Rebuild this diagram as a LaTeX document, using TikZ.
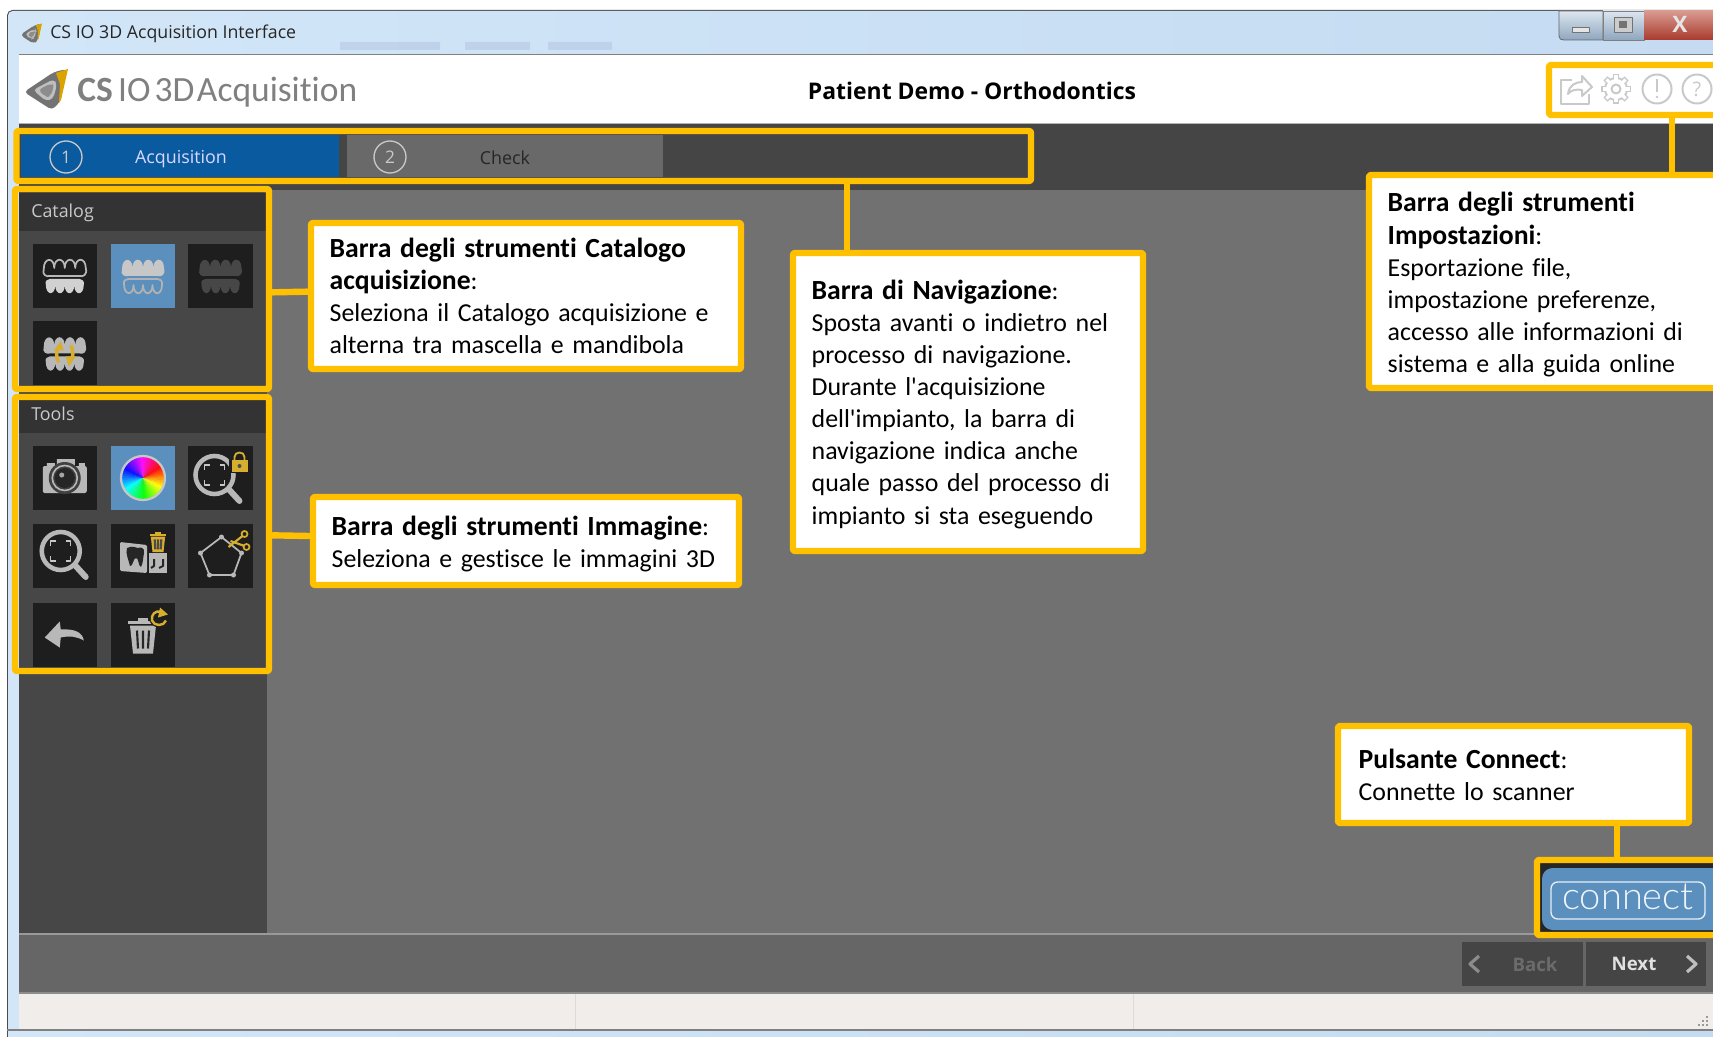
\documentclass[tikz,border=0pt]{standalone}
\usepackage{fontspec}
\setmainfont[Ligatures={NoCommon,TeXOff},WordSpace=0.78,BoldFeatures={Scale=1.07,WordSpace=0.78}]{Carlito}
\newfontfamily\uifont{Open Sans}
\newfontfamily\logofont[Ligatures=NoCommon]{Carlito}
\newfontfamily\lightfont{Lato Light}
\usetikzlibrary{calc}
\definecolor{hl}{HTML}{FFC000}
\definecolor{iconbk}{HTML}{1E1E1E}
\definecolor{selblue}{HTML}{5B90BE}
\definecolor{panel}{HTML}{474747}
\definecolor{hdrbk}{HTML}{333333}
\definecolor{midgray}{HTML}{717171}
\definecolor{metal}{HTML}{B8B8B8}
\definecolor{gold}{HTML}{D8AE2E}
\definecolor{pale}{HTML}{C9C9C9}
\definecolor{statusbk}{HTML}{F0EDEB}
\definecolor{tabblue}{HTML}{0A5AA0}
\definecolor{tabgray}{HTML}{696969}
\definecolor{titleA}{HTML}{D2E6F8}
\definecolor{titleB}{HTML}{B6D4F0}
\definecolor{titleC}{HTML}{C4DBF1}
\definecolor{btnA}{HTML}{DCE6F0}
\definecolor{btnB}{HTML}{8FA6BE}
\definecolor{redA}{HTML}{D99A90}
\definecolor{redB}{HTML}{C8402C}
\definecolor{redC}{HTML}{A83A2C}
\tikzset{
  hlbox/.style={draw=hl,line width=4.8pt,rounded corners=1.5pt,inner sep=0pt,fill=none},
  calloutbox/.style={draw=hl,line width=4.8pt,rounded corners=1.5pt,fill=white,inner ysep=0pt,inner xsep=14pt,align=left,font=\fontsize{19.4}{24.1}\selectfont,text=black},
  link/.style={draw=hl,line width=4.8pt},
  uilabel/.style={font=\uifont\fontsize{13.4}{16}\selectfont,inner sep=0pt},
  panelhead/.style={font=\uifont\fontsize{13.4}{16}\selectfont,inner sep=0pt,text=pale,anchor=west},
  numring/.style={circle,draw=#1,line width=1pt,minimum size=24pt,inner sep=0pt,text=#1,font=\uifont\fontsize{13}{16}\selectfont},
  paleline/.style={draw=pale,line width=1.5pt,fill=none},
}
% rectangle node from corners, no text
\newcommand{\hlrect}[5]{%
  \pgfmathsetmacro\bxw{(#4-#2)*0.75}\pgfmathsetmacro\bxh{(#5-#3)*0.75}%
  \pgfmathsetmacro\bcx{(#2+#4)/2}\pgfmathsetmacro\bcy{(#3+#5)/2}%
  \node[hlbox,minimum width=\bxw pt,minimum height=\bxh pt] (#1) at (\bcx,\bcy) {};}
% callout node from corners
\newcommand{\callout}[6]{%
  \pgfmathsetmacro\bxw{(#4-#2)*0.75}\pgfmathsetmacro\bxh{(#5-#3)*0.75}%
  \pgfmathsetmacro\btw{(#4-#2)*0.75-28}%
  \pgfmathsetmacro\bcx{(#2+#4)/2}\pgfmathsetmacro\bcy{(#3+#5)/2}%
  \node[calloutbox,minimum width=\bxw pt,minimum height=\bxh pt,text width=\btw pt] (#1) at (\bcx,\bcy) {#6};}
\newcommand{\iconbg}[3]{\fill[#3] ({#1-32.25},{#2-32}) rectangle ({#1+32.25},{#2+32});}
\newcommand{\uppert}[1]{\path[#1] (-21,-7)
  \foreach \i in {0,1,2,3}{ .. controls ({-21+10.5*\i},-19) and ({-10.5+10.5*\i},-19) .. ({-10.5+10.5*\i},-8)}
  .. controls (23,-1) and (18,1) .. (15,0) -- (-15,0) .. controls (-18,1) and (-23,-1) .. (-21,-7) -- cycle;}
\newcommand{\lowert}[1]{\path[#1] (-19,8)
  \foreach \i in {0,1,2,3}{ .. controls ({-19+9.5*\i},20) and ({-9.5+9.5*\i},20) .. ({-9.5+9.5*\i},9)}
  .. controls (20,5) and (17,3) .. (15,3) -- (-15,3) .. controls (-17,3) and (-20,5) .. (-19,8) -- cycle;}
\newcommand{\magnifier}{%
  \draw[metal,line width=4.5pt,line cap=round] (11,10) -- (21,21);
  \draw[metal,line width=3.4pt] (-4,-5) circle (19);
  \draw[metal!80!white,line width=1.1pt]
    (-14,-10) -- (-14,-15) -- (-9,-15) (1,-15) -- (6,-15) -- (6,-10)
    (6,0) -- (6,5) -- (1,5) (-9,5) -- (-14,5) -- (-14,0);}
\newcommand{\bin}[2]{%
  \fill[#1] (-13,-8) -- (13,-8) -- (10,20) -- (-10,20) -- cycle;
  \fill[#1] (-15,-13) rectangle (15,-9.5);
  \fill[#1] (-5,-16) rectangle (5,-13);
  \draw[#2,line width=1.6pt] (-6,-3) -- (-5,15) (0,-3) -- (0,15) (6,-3) -- (5,15);}
\newcommand{\shield}{%
  \fill[black!55,rounded corners=3pt] (-22,2) -- (8,-18) -- (21,-21) -- (14,12) -- (6,20) -- cycle;
  \fill[hl!85!black] (10,-17) -- (22,-21) -- (15,10) -- (13,13) -- (14,-6) -- cycle;
  \fill[white!75!black,rounded corners=3pt] (-13,0) -- (8,-11) -- (11,-5) -- (7,9) -- (0,11) -- cycle;
  \fill[black!45,rounded corners=3pt] (-8,0) -- (6,-7) -- (8,-3) -- (4,7) -- (0,7) -- cycle;}
\begin{document}
\begin{tikzpicture}[x=0.75pt,y=-0.75pt,line join=round]
\clip (0,0) rectangle (1713,1037);
\fill[white] (0,0) rectangle (1713,1037);
% ---- window frame
\fill[rounded corners=4pt,fill=black!70] (7,10) rectangle (1725,1050);
\shade[rounded corners=3.5pt,left color=titleA,middle color=titleB,right color=titleC] (8,11) rectangle (1725,1050);
\fill[blue!30!black,opacity=.07] (340,42) rectangle (440,50) (465,42) rectangle (530,50) (548,42) rectangle (612,50);
% ---- content background
\fill[white] (18.5,55) rectangle (1713,123);
\draw[black!50,line width=.8pt] (18.5,54.5) -- (1713,54.5);
\fill[midgray] (18.5,190) rectangle (1713,934);
\fill[black!73] (18.5,123) rectangle (1713,190);
\draw[black!30,line width=.6pt] (18.5,123) -- (1713,123);
\fill[panel] (18.5,190) rectangle (267,934);
\fill[black!60] (18.5,934) rectangle (1713,993);
\draw[black!40,line width=.8pt] (18.5,934) -- (1713,934);
\fill[statusbk] (18.5,993) rectangle (1713,1030);
\draw[black!45,line width=.8pt] (18.5,993) -- (1713,993);
\draw[black!50,line width=.8pt] (7,1030) -- (1713,1030);
\draw[black!14,line width=.7pt] (575,994) -- (575,1029) (1133,994) -- (1133,1029);
\foreach \dx/\dy in {1706/1024,1702/1024,1698/1024,1706/1020,1702/1020,1706/1016}{\fill[black!40] (\dx,\dy) rectangle ++(1.5,1.5);}
% ---- window buttons
\shade[top color=btnA,bottom color=btnB,draw=black!60,line width=.6pt] (1559,11) -- (1559,36) .. controls (1559,39) and (1561,40) .. (1564,40) -- (1603,40) -- (1603,11) -- cycle;
\shade[top color=btnA,bottom color=btnB,draw=black!50,line width=.6pt] (1603,11) rectangle (1644,40);
\shade[top color=redA,middle color=redB,bottom color=redC] (1644,11) rectangle (1725,40);
\fill[white!90!black,draw=black!55,line width=.5pt] (1572,27) rectangle (1589,32);
\draw[black!55,fill=white!80!black,line width=.6pt] (1614,17) rectangle (1632,32);
\fill[black!55] (1619,21) rectangle (1627,28);
\node[inner sep=0pt,font=\uifont\bfseries\fontsize{17}{17}\selectfont,text=white!90!black] (closex) at (1680,24) {X};
% ---- title
\begin{scope}[shift={(31,34)},scale=.5]\shield\end{scope}
\node[uilabel,anchor=west,text=black!85,font=\uifont\fontsize{13.3}{16}\selectfont] (wintitle) at (50,33.5) {CS IO 3D Acquisition Interface};
% ---- logo
\begin{scope}[shift={(46,90)}]\shield\end{scope}
\node[inner sep=0pt,anchor=west,text=black!50,font=\logofont\fontsize{26.6}{30}\selectfont] (logo) at (77,92) {\textbf{CS}\kern4pt IO\kern3pt 3D\kern2pt Acquisition};
\node[inner sep=0pt,font=\uifont\bfseries\fontsize{17.2}{20}\selectfont,text=black] (patient) at (972,91) {Patient Demo - Orthodontics};
% ---- settings icons
\begin{scope}[shift={(1576,90)}]
  \draw[pale,line width=1.5pt] (-4,-10) -- (-15,-10) -- (-15,14) -- (13,14) -- (13,4);
  \draw[pale,line width=1.5pt] (-8,4) .. controls (-7,-5) and (0,-8) .. (6,-8) -- (6,-14) -- (16,-3) -- (6,6) -- (6,0) .. controls (0,-1) and (-5,0) .. (-8,4) -- cycle;
\end{scope}
\begin{scope}[shift={(1616,89)}]
  \foreach \a in {0,45,...,315}{\draw[pale,line width=4.5pt] (0,0) -- ({15*cos(\a)},{15*sin(\a)});}
  \fill[pale] (0,0) circle (12);
  \foreach \a in {0,45,...,315}{\draw[white,line width=2.4pt] (0,0) -- ({13.5*cos(\a)},{13.5*sin(\a)});}
  \fill[white] (0,0) circle (10);
  \draw[pale,line width=1.5pt] (0,0) circle (4.5);
\end{scope}
\draw[paleline] (1657,89) circle (14.5);
\draw[pale,line width=1.6pt] (1657,79) -- (1657,92);
\fill[pale] (1657,97) circle (1.4);
\draw[paleline] (1697,89) circle (14.5);
\node[inner sep=0pt,text=pale,font=\uifont\fontsize{15}{15}\selectfont] (helpq) at (1697,89) {?};
% ---- navigation tabs
\fill[tabblue] (21,135) rectangle (339,177);
\fill[tabgray] (347,135) rectangle (663,177);
\node[numring=pale] (numone) at (66,157) {1};
\node[numring=pale] (numtwo) at (390,157) {2};
\node[uilabel,text=white!85!blue] (tabacq) at (181,159) {Acquisition};
\node[uilabel,text=black!85] (tabchk) at (505,158) {Check};
% ---- catalog panel
\fill[hdrbk] (18.5,193) rectangle (267,231);
\node[panelhead] (cathead) at (31,213) {Catalog};
\iconbg{64.75}{276}{iconbk}
\iconbg{143}{276}{selblue}
\iconbg{220.5}{276}{iconbk}
\iconbg{64.75}{353.5}{iconbk}
\begin{scope}[shift={(64.75,276)}]
  \uppert{draw=metal,line width=1.3pt}\lowert{fill=black!18}
\end{scope}
\begin{scope}[shift={(143,276)}]
  \uppert{fill=black!22}\lowert{draw=black!30,line width=1.3pt}
\end{scope}
\begin{scope}[shift={(220.5,276)}]
  \uppert{fill=black!72}\lowert{fill=black!72}
\end{scope}
\begin{scope}[shift={(64.75,353.5)}]
  \uppert{fill=metal}\lowert{fill=metal}
  \draw[gold,line width=2.6pt] (-5,-8) .. controls (-9,-3) and (-9,4) .. (-6,9);
  \draw[gold,line width=2.6pt] (5,9) .. controls (9,4) and (9,-3) .. (6,-8);
  \fill[gold] (-11,-3) -- (-4,-12) -- (-1,-3) -- cycle (11,3) -- (4,13) -- (1,3) -- cycle;
\end{scope}
% ---- tools panel
\fill[hdrbk] (18.5,400) rectangle (267,433);
\node[panelhead] (toolhead) at (31,414) {Tools};
\iconbg{64.75}{478}{iconbk}
\iconbg{143}{478}{selblue}
\iconbg{220.5}{478}{iconbk}
\iconbg{64.75}{556}{iconbk}
\iconbg{143}{556}{iconbk}
\iconbg{220.5}{556}{iconbk}
\iconbg{64.75}{634.5}{iconbk}
\iconbg{143}{634.5}{iconbk}
% camera
\begin{scope}[shift={(64.75,478)}]
  \fill[metal,rounded corners=1.5pt] (-22,-12) rectangle (22,15);
  \fill[metal] (-18,-15) rectangle (-10,-12) (14,-15) rectangle (20,-12) (-8,-19) rectangle (10,-12);
  \fill[black!75] (0,0) circle (16);
  \draw[metal,line width=1.2pt] (0,0) circle (12.5);
  \fill[black!85] (0,0) circle (10);
  \fill[black!35] (-3,-3) circle (2.5);
\end{scope}
% colour wheel
\begin{scope}[shift={(143,478)}]
  \foreach \a in {0,6,...,354}{
    \pgfmathsetmacro\hh{mod(390-\a,360)/360}
    \definecolor{wedge}{hsb}{\hh,0.95,1}
    \fill[wedge] (0,0) -- ({21*cos(\a)},{-21*sin(\a)}) -- ({21*cos(\a+7)},{-21*sin(\a+7)}) -- cycle;
  }
  \draw[black!22,line width=1.7pt] (0,0) circle (22);
\end{scope}
% magnifier with lock
\begin{scope}[shift={(220.5,478)}]
  \begin{scope}[shift={(-2,2)}]\magnifier\end{scope}
  \fill[iconbk] (8,-28) rectangle (28,-5);
  \draw[gold,line width=1.4pt] (14,-18) -- (14,-21) .. controls (14,-27) and (24,-27) .. (24,-21) -- (24,-18);
  \fill[gold] (11,-18) rectangle (27,-6);
  \fill[black!70] (19,-12) circle (2);
\end{scope}
% magnifier
\begin{scope}[shift={(64.75,556)}]\magnifier\end{scope}
% tooth card with bin
\begin{scope}[shift={(143,556)}]
  \fill[metal,rounded corners=1pt] (-23,-14) -- (4,-11) -- (4,17) -- (-23,15) -- cycle;
  \fill[black!85] (-16,-8) .. controls (-10,-11) and (-7,-8) .. (-5,-8) .. controls (-3,-9) and (2,-9) .. (1,-3) .. controls (0,2) and (0,8) .. (-2,11) .. controls (-5,10) and (-4,2) .. (-7,2) .. controls (-10,2) and (-10,11) .. (-13,10) .. controls (-14,5) and (-18,-3) .. (-16,-8) -- cycle;
  \fill[metal] (6,-3) rectangle (24,17);
  \draw[black!85,line width=1.5pt] (11,3) -- (11,10) -- (8,12) (20,3) -- (20,10) -- (16,12);
  \fill[iconbk] (5,-26) rectangle (27,-5);
  \begin{scope}[shift={(15,-15)},scale=.55]\bin{gold}{black!70}\end{scope}
\end{scope}
% pentagon with scissors
\begin{scope}[shift={(220.5,556)}]
  \draw[metal,line width=1.3pt] (1,-19) -- (21,-3) -- (13,19) -- (-11,19) -- (-20,-3) -- cycle;
  \foreach \p in {(1,-19),(21,-3),(13,19),(-11,19),(-20,-3)}{\fill[metal] \p circle (2.5);}
  \draw[gold,line width=1.6pt] (8,-9) -- (22,-20) (10,-15) -- (24,-10);
  \draw[gold,line width=1.3pt] (24,-22) circle (3) (26,-9) circle (3);
\end{scope}
% back arrow
\begin{scope}[shift={(64.75,634.5)}]
  \fill[metal] (-20,3) -- (-5,-13) -- (-4,-5) .. controls (10,-6) and (18,-2) .. (19,6) .. controls (12,2) and (5,1) .. (-4,3) -- (-5,13) -- cycle;
\end{scope}
% bin with refresh
\begin{scope}[shift={(143,634.5)}]
  \begin{scope}[shift={(0,-1)}]\bin{metal}{black!85}\end{scope}
  \fill[iconbk] (16,-17) circle (10);
  \draw[gold,line width=1.8pt] (23,-14) .. controls (21,-8) and (11,-8) .. (9,-14) .. controls (8,-20) and (12,-24) .. (18,-23);
  \fill[gold] (17,-27) -- (25,-20) -- (15,-17) -- cycle;
\end{scope}
% ---- connect button
\fill[black!85] (1537,860) rectangle (1713,934);
\fill[selblue,rounded corners=8pt] (1542,868) rectangle (1730,930);
\draw[white!85!selblue,line width=1pt,rounded corners=5pt] (1551,882) rectangle (1705,919);
\node[inner sep=0pt,text=white!90!selblue,font=\lightfont\fontsize{28.5}{30}\selectfont] (connecttxt) at (1628,897) {connect};
% ---- back / next
\fill[black!73] (1462,942) rectangle (1583,986);
\fill[black!73] (1586,942) rectangle (1706,986);
\node[inner sep=0pt,text=black!58,font=\uifont\bfseries\fontsize{14}{16}\selectfont] (backtxt) at (1535,964) {Back};
\node[inner sep=0pt,text=black!12,font=\uifont\bfseries\fontsize{14}{16}\selectfont] (nexttxt) at (1634,964) {Next};
\draw[black!45,line width=2.4pt] (1479,956) -- (1470,964) -- (1479,972);
\draw[black!25,line width=2.4pt] (1687,956) -- (1696,964) -- (1687,972);
% ---- highlight boxes
\hlrect{navbox}{16.5}{131}{1031}{181}
\hlrect{catbox}{15}{189}{269}{389}
\hlrect{toolbox}{15}{397}{269}{671}
\hlrect{setbox}{1549}{65}{1725}{115}
\hlrect{conbox}{1537}{860}{1725}{935}
% ---- callouts
\callout{catcall}{311}{223}{741}{369}{\textbf{Barra degli strumenti Catalogo}\\\textbf{acquisizione}:\\Seleziona il Catalogo acquisizione e\\alterna tra mascella e mandibola}
\callout{imgcall}{313}{497}{739}{585}{\rule{0pt}{19.4pt}\textbf{Barra degli strumenti Immagine}:\\Seleziona e gestisce le immagini 3D}
\callout{navcall}{793}{253}{1143}{551}{\rule{0pt}{17.7pt}\textbf{Barra di Navigazione}:\\Sposta avanti o indietro nel\\processo di navigazione.\\Durante l'acquisizione\\dell'impianto, la barra di\\navigazione indica anche\\quale passo del processo di\\impianto si sta eseguendo}
\callout{setcall}{1369}{175}{1760}{388}{\rule{0pt}{19.4pt}\textbf{Barra degli strumenti}\\\textbf{Impostazioni}:\\Esportazione file,\\impostazione preferenze,\\accesso alle informazioni di\\sistema e alla guida online}
\callout{concall}{1338}{726}{1689}{823}{\hspace*{1.5pt}\textbf{Pulsante Connect}:\\\hspace*{1.5pt}Connette lo scanner}
% ---- connectors
\coordinate (navdrop) at (847,181);
\coordinate (setdrop) at (1672,115);
\coordinate (condrop) at (1617,860);
\draw[link] (navdrop) -- (navdrop |- navcall.north);
\draw[link] (setdrop) -- (setdrop |- setcall.north);
\draw[link] (condrop) -- (condrop |- concall.south);
\draw[link] ([yshift=-2.5pt]catbox.east) -- ([yshift=-2pt]catbox.east -| catcall.west);
\draw[link] ([yshift=-1pt]toolbox.east) -- ([yshift=-1.5pt]toolbox.east -| imgcall.west);
\end{tikzpicture}
\end{document}
